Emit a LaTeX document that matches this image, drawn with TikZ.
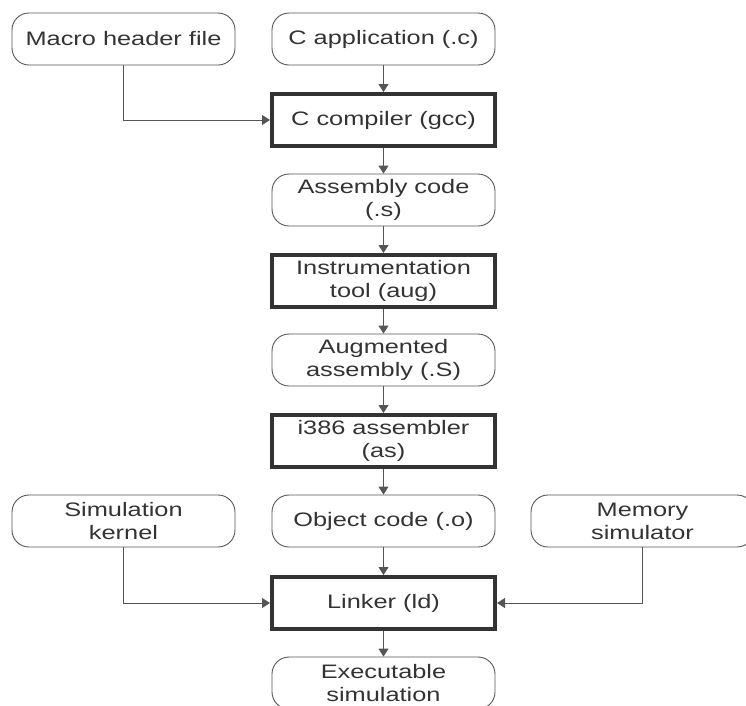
\documentclass[tikz,border=0pt]{standalone}
\usepackage{fontspec}
\setmainfont{Liberation Sans}[FakeStretch=1.3]
\usetikzlibrary{arrows.meta}
\definecolor{ink}{HTML}{333333}
\definecolor{wire}{HTML}{555555}
\begin{document}
\begin{tikzpicture}[x=1pt,y=-1pt,
  every node/.style={font=\fontsize{19.5}{23}\selectfont, text=ink, align=center,
    minimum width=223pt, minimum height=52pt, inner sep=0pt},
  datafile/.style={draw=wire, line width=0.9pt, rounded corners=17pt},
  toolbox/.style={draw=ink, line width=4pt},
  flow/.style={draw=wire, line width=0.9pt, -{Triangle[length=8pt,width=10pt]}}]
\useasboundingbox (0,0) rectangle (746,705);
% sources
\node[datafile] (macro) at (123.5,39) {Macro header file};
\node[datafile] (capp)  at (383.5,39) {C application (.c)};
% tool chain
\node[toolbox]  (gcc)   at (383.5,120) {C compiler (gcc)};
\node[datafile] (asm)   at (383.5,200) {Assembly code\\(.s)};
\node[toolbox]  (aug)   at (383.5,281) {Instrumentation\\tool (aug)};
\node[datafile] (augS)  at (383.5,360) {Augmented\\assembly (.S)};
\node[toolbox]  (as)    at (383.5,441) {i386 assembler\\(as)};
\node[datafile] (obj)   at (383.5,521) {Object code (.o)};
\node[datafile] (kern)  at (123.5,521) {Simulation\\kernel};
\node[datafile] (mem)   at (642.5,521) {Memory\\simulator};
\node[toolbox]  (ld)    at (383.5,603) {Linker (ld)};
\node[datafile] (exe)   at (383.5,683) {Executable\\simulation};
% connectors
\draw[flow] (capp) -- (gcc);
\draw[flow] (macro.south) |- (gcc.west);
\draw[flow] (gcc) -- (asm);
\draw[flow] (asm) -- (aug);
\draw[flow] (aug) -- (augS);
\draw[flow] (augS) -- (as);
\draw[flow] (as) -- (obj);
\draw[flow] (obj) -- (ld);
\draw[flow] (kern.south) |- (ld.west);
\draw[flow] (mem.south) |- (ld.east);
\draw[flow] (ld) -- (exe);
\end{tikzpicture}
\end{document}
